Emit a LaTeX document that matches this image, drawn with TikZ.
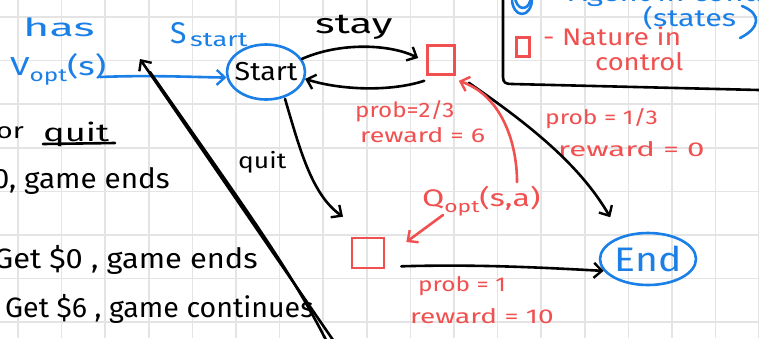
\documentclass[tikz,border=0pt]{standalone}
\usepackage{fontspec}
\usepackage{graphicx}
\setmainfont{Fira Sans}
\usetikzlibrary{arrows.meta,shapes.geometric}
\definecolor{inkblue}{HTML}{1A7FE6}
\definecolor{inkred}{HTML}{F0504F}
\definecolor{gridgray}{HTML}{E4E4E4}
% horizontally stretched text, as the pen writes wide
\newcommand\hs[2]{\scalebox{#1}[1]{#2}}
\newcommand\fs[1]{\fontsize{#1}{#1}\selectfont}
\tikzset{
  ink/.style={line width=2.6pt,line cap=round,line join=round},
  barb/.style={-{Straight Barb[length=8pt,width=15pt,line width=2.4pt]}},
  txt/.style={inner sep=0pt,anchor=base west},
  rtxt/.style={inner sep=0pt,anchor=base east},
  nature/.style={draw=inkred,line width=2.6pt,minimum width=#1,inner sep=0pt},
  agent/.style={ellipse,draw=inkblue,line width=2.6pt,inner sep=0pt},
}
\begin{document}
\begin{tikzpicture}[x=1pt,y=-1pt]
\useasboundingbox (0,0) rectangle (759,338);
\clip (0,0) rectangle (759,338);
% squared paper
\fill[white] (0,0) rectangle (759,338);
\foreach \i in {0,...,17} {
  \draw[gridgray,line width=1.6pt] (18+43.6*\i,0) -- (18+43.6*\i,338);
}
\foreach \j in {0,...,7} {
  \draw[gridgray,line width=1.6pt] (0,17+43.6*\j) -- (759,17+43.6*\j);
}

% legend box, top right
\draw[ink] (503,-2) -- (503,77) .. controls (503,83) and (506,84) .. (512,84) -- (759,90);
\draw[inkblue,ink] (522,-1) ellipse[x radius=10,y radius=15];
\draw[inkblue,ink] (523,-4) ellipse[x radius=8,y radius=12];
\node[txt,text=inkblue,font=\fs{24}] (agentlbl) at (548,1) {\hs{1.3}{- Agent in control}};
\node[txt,text=inkblue,font=\fs{24}] (stateslbl) at (643,26) {\hs{1.27}{(states}};
\draw[inkblue,ink] (742,6) .. controls (762,14) and (760,28) .. (740,38);
\node[nature=13pt,minimum height=19pt] (legsq) at (523,47) {};
\node[txt,text=inkred,font=\fs{24}] (naturelbl) at (543,45) {\hs{1.18}{- Nature in}};
\node[txt,text=inkred,font=\fs{24}] (controllbl) at (595,70) {\hs{1.14}{control}};

% notes on the left
\node[txt,text=inkblue,font=\fs{25}] (has) at (23,36) {\hs{1.8}{has}};
\node[txt,text=inkblue,font=\fs{26}] (vopt) at (10,75) {\hs{1.35}{V\raisebox{-6pt}{\fs{18}opt}(s)}};
\node[txt,font=\fs{22}] (orw) at (-4,138) {\hs{1.3}{or}};
\node[txt,font=\fs{25}] (quitw) at (43,141) {\hs{1.45}{quit}};
\draw[ink] (43,144) -- (115,143);
\node[rtxt,font=\fs{28}] (ends1) at (170,188) {\hs{1.06}{0, game ends}};
\node[rtxt,font=\fs{28}] (get0) at (258,268) {\hs{1.1}{Get \$0 , game ends}};
\node[txt,font=\fs{28}] (get6) at (5,317) {\hs{1.02}{Get \$6 , game continues}};

% start state
\node[txt,text=inkblue,font=\fs{30}] (sS) at (170,43) {S};
\node[txt,text=inkblue,font=\fs{20}] (sstart) at (190,46) {\hs{1.36}{start}};
\node[agent,minimum width=78pt,minimum height=55pt] (start) at (266,72) {};
\node[inner sep=0pt,font=\fs{26}] at (start) {\hs{1.1}{Start}};

% end state
\node[agent,minimum width=96pt,minimum height=52pt] (end) at (648,259) {};
\node[inner sep=0pt,text=inkblue,font=\fs{34}] at (end) {\hs{1.15}{End}};

% chance nodes
\node[nature=27pt,minimum height=29pt] (stayq) at (441,60) {};
\node[nature=32pt,minimum height=30pt] (quitq) at (368,253) {};

% action labels
\node[txt,font=\fs{28}] (staylbl) at (315,33) {\hs{1.5}{stay}};
\node[txt,font=\fs{22}] (quitlbl) at (238,168) {\hs{1.2}{quit}};

% outcome labels
\node[txt,text=inkred,font=\fs{21}] (p23) at (355,117) {\hs{1.15}{prob=2/3}};
\node[txt,text=inkred,font=\fs{20}] (r6) at (360,142) {\hs{1.34}{reward = 6}};
\node[txt,text=inkred,font=\fs{20}] (p13) at (545,124) {\hs{1.23}{prob = 1/3}};
\node[txt,text=inkred,font=\fs{20}] (r0) at (558,156) {\hs{1.56}{reward = 0}};
\node[txt,text=inkred,font=\fs{20}] (p1) at (418,291) {\hs{1.22}{prob = 1}};
\node[txt,text=inkred,font=\fs{20}] (r10) at (410,323) {\hs{1.4}{reward = 10}};
\node[txt,text=inkred,font=\fs{24}] (qopt) at (422,206) {\hs{1.34}{Q\raisebox{-6pt}{\fs{17}opt}(s,a)}};

% free ends of connectors
\coordinate (vtail) at (100,77);
\coordinate (slashtop) at (140,59);
\coordinate (slashbot) at (333,340);
\coordinate (slashbotb) at (326,340);
\coordinate (qup) at (517,182);
\coordinate (qdown) at (443,215);

% connectors
\draw[inkblue,ink,barb] (vtail) .. controls (150,75) and (190,77) .. (start.188);
\draw[ink,barb] (start.20) .. controls (340,42) and (390,44) .. ([shift={(-8,-2)}]stayq.west);
\draw[ink,barb] ([shift={(-2,5)}]stayq.south west) .. controls (390,92) and (340,90) .. (start.-10);
\draw[ink,barb] ([shift={(19,-2)}]start.south) .. controls (300,150) and (312,195) .. ([shift={(-25,-20)}]quitq.north);
\draw[ink,barb] ([shift={(13,7)}]stayq.south east) .. controls (530,125) and (580,165) .. ([shift={(-17,-17)}]end.130);
\draw[ink,barb] ([shift={(16,-3)}]quitq.south east) .. controls (480,264) and (550,268) .. (end.195);
\draw[inkred,ink,barb] (qup) .. controls (517,140) and (500,95) .. ([shift={(3,5)}]stayq.south east);
\draw[inkred,ink,barb] (qdown) -- ([shift={(21,-11)}]quitq.east);
% struck-through diagonal
\draw[ink,barb] (slashbot) -- (slashtop);
\draw[ink] (slashbotb) .. controls (290,270) and (250,215) .. (150,72);
\end{tikzpicture}
\end{document}
